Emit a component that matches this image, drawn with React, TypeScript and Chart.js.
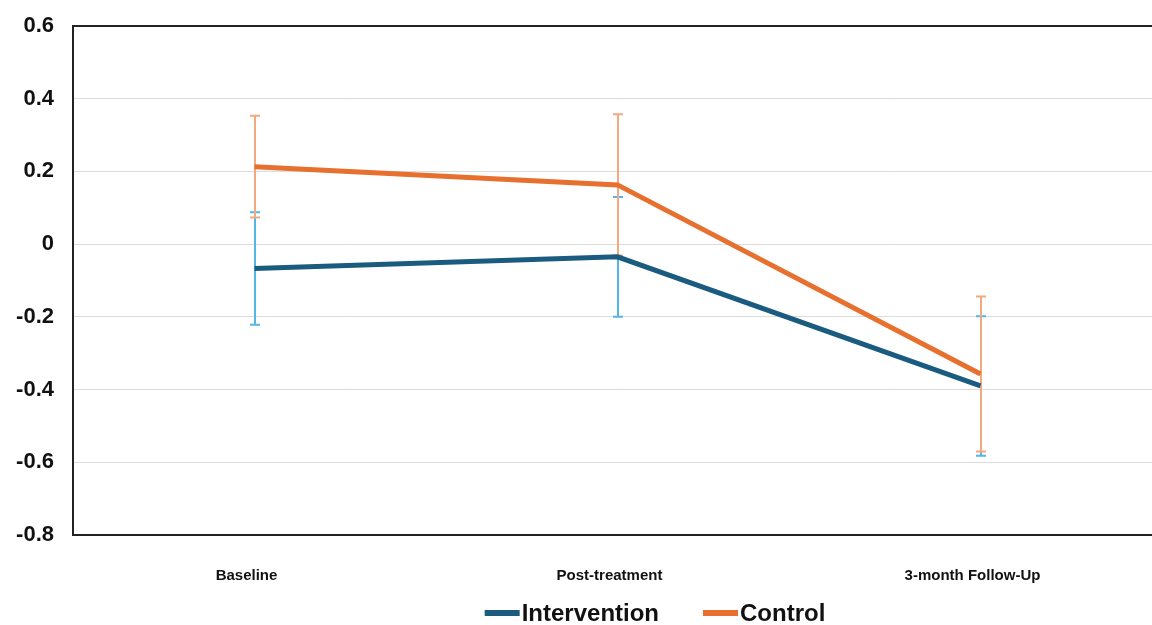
import React, { useEffect, useRef } from "react";
import { Chart, registerables } from "chart.js";

Chart.register(...registerables);

const categories = ["Baseline", "Post-treatment", "3-month Follow-Up"];
const interventionMean = [-0.067, -0.035, -0.39];
const interventionErr = [0.155, 0.165, 0.192];
const controlMean = [0.213, 0.163, -0.357];
const controlErr = [0.14, 0.194, 0.213];
const yTicks = [0.6, 0.4, 0.2, 0, -0.2, -0.4, -0.6, -0.8];

const BLUE = "#1b5b80";
const ORANGE = "#e8702f";
const BLUE_ERR = "#55b5e6";
const ORANGE_ERR = "#f3a97f";
const FONT = "'Liberation Sans', Arial, sans-serif";

const errorBarPlugin = {
  id: "errorBars",
  beforeDatasetsDraw(chart: any) {
    const ctx = chart.ctx;
    const xs = chart.scales.x;
    const ys = chart.scales.y;
    const sets = [
      { mean: interventionMean, err: interventionErr, color: BLUE_ERR },
      { mean: controlMean, err: controlErr, color: ORANGE_ERR },
    ];
    ctx.save();
    ctx.lineWidth = 2;
    for (const s of sets) {
      ctx.strokeStyle = s.color;
      s.mean.forEach((m, i) => {
        const x = Math.round(xs.getPixelForValue(i));
        const yt = ys.getPixelForValue(m + s.err[i]);
        const yb = ys.getPixelForValue(m - s.err[i]);
        ctx.beginPath();
        ctx.moveTo(x, yt);
        ctx.lineTo(x, yb);
        ctx.moveTo(x - 5, yt);
        ctx.lineTo(x + 5, yt);
        ctx.moveTo(x - 5, yb);
        ctx.lineTo(x + 5, yb);
        ctx.stroke();
      });
    }
    ctx.restore();
  },
};

const framePlugin = {
  id: "frame",
  afterDraw(chart: any) {
    const { ctx, chartArea } = chart;
    ctx.save();
    ctx.strokeStyle = "#222";
    ctx.lineWidth = 2;
    ctx.strokeRect(chartArea.left, chartArea.top, chartArea.right - chartArea.left, chartArea.bottom - chartArea.top);
    // legend
    const ds = chart.data.datasets;
    ctx.font = `bold 24px ${FONT}`;
    ctx.textBaseline = "middle";
    const sw = 35, gapText = 2, gapItem = 44;
    const widths = ds.map((d: any) => sw + gapText + ctx.measureText(d.label).width);
    const total = widths.reduce((a: number, b: number) => a + b, 0) + gapItem * (ds.length - 1);
    let x = 655 - total / 2;
    const y = chartArea.bottom + 78;
    ds.forEach((d: any, i: number) => {
      ctx.fillStyle = d.borderColor;
      ctx.fillRect(x, y - 3, sw, 6);
      ctx.fillStyle = "#111";
      ctx.fillText(d.label, x + sw + gapText, y + 1);
      x += widths[i] + gapItem;
    });
    ctx.restore();
  },
};

export default function App() {
  const ref = useRef<HTMLCanvasElement>(null);
  useEffect(() => {
    document.body.style.margin = "0";
    const chart = new Chart(ref.current!, {
      type: "line",
      data: {
        labels: categories,
        datasets: [
          {
            label: "Intervention",
            data: interventionMean,
            borderColor: BLUE,
            backgroundColor: BLUE,
            borderWidth: 5,
            pointRadius: 0,
            tension: 0,
          },
          {
            label: "Control",
            data: controlMean,
            borderColor: ORANGE,
            backgroundColor: ORANGE,
            borderWidth: 5,
            pointRadius: 0,
            tension: 0,
          },
        ],
      },
      options: {
        animation: false,
        responsive: false,
        layout: { padding: { top: 26, right: 8, left: 0, bottom: 0 } },
        plugins: {
          tooltip: { enabled: false },
          legend: { display: false },
        },
        scales: {
          x: {
            offset: true,
            grid: { display: false, drawTicks: false },
            border: { display: false },
            afterFit: (s: any) => { s.height = 90; s.paddingLeft = 0; s.paddingRight = 0; },
            ticks: {
              padding: 32,
              labelOffset: -8,
              maxRotation: 0,
              color: "#111",
              font: { family: FONT, size: 15, weight: "bold" },
            },
          },
          y: {
            min: -0.8,
            max: 0.6,
            afterFit: (s: any) => { s.width = 73; s.paddingTop = 0; s.paddingBottom = 0; },
            afterBuildTicks: (s: any) => { s.ticks = yTicks.map((v) => ({ value: v })); },
            grid: { color: "#dcdcdc", lineWidth: 1, drawTicks: false },
            border: { display: false },
            ticks: {
              padding: 19,
              color: "#111",
              callback: (v: any) => String(Math.round(Number(v) * 10) / 10),
              font: { family: FONT, size: 22, weight: "bold" },
            },
          },
        },
      },
      plugins: [errorBarPlugin, framePlugin],
    } as any);
    return () => chart.destroy();
  }, []);
  return (
    <div style={{ width: 1152, height: 625, overflow: "hidden", background: "#fff" }}>
      <canvas ref={ref} width={1170} height={625} style={{ display: "block" }} />
    </div>
  );
}
